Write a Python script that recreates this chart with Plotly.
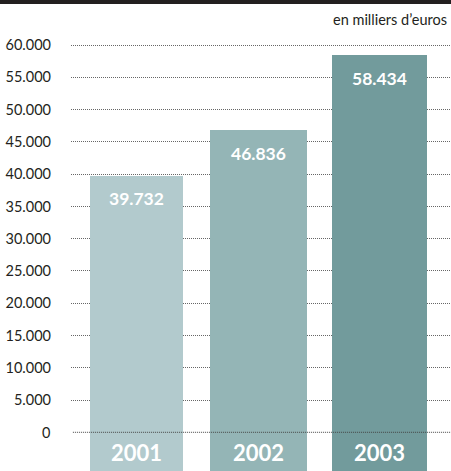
import plotly.graph_objects as go

# Chiffre d'affaires annuel, en milliers d'euros
years = ["2001", "2002", "2003"]
values = [39732, 46836, 58434]
value_labels = ["39.732", "46.836", "58.434"]
tick_values = [0, 5000, 10000, 15000, 20000, 25000, 30000,
               35000, 40000, 45000, 50000, 55000, 60000]
footer_depth = -6000  # bar extension below zero that carries the year

bar_colors = ["#b2cacd", "#94b5b6", "#729b9c"]
bar_widths = [0.765, 0.798, 0.782]

fig = go.Figure()

# main bars, 0 -> value
fig.add_trace(go.Bar(
    x=years, y=values,
    marker=dict(color=bar_colors, line=dict(width=0)),
    width=bar_widths,
    hoverinfo="skip",
    showlegend=False,
))
# footer of each bar, below the zero line
fig.add_trace(go.Bar(
    x=years, y=[footer_depth] * len(years),
    marker=dict(color=bar_colors, line=dict(width=0)),
    width=bar_widths,
    hoverinfo="skip",
    showlegend=False,
))

annotations = []
for i, (yr, v, lab) in enumerate(zip(years, values, value_labels)):
    # category index keeps the numeric-looking year from being misread
    annotations.append(dict(
        x=i, y=v, xref="x", yref="y", text=lab, showarrow=False,
        yshift=-23, yanchor="middle",
        font=dict(family="Lato", size=17.5, color="white", weight="bold"),
    ))
    annotations.append(dict(
        x=i, y=0, xref="x", yref="y", text=yr, showarrow=False,
        yshift=-20, yanchor="middle",
        font=dict(family="Lato", size=22, color="white", weight="bold"),
    ))

H = 471
annotations.append(dict(
    x=1, y=1 - 20 / H, xref="paper", yref="paper", xanchor="right",
    yanchor="middle", xshift=-2, text="en milliers d’euros", showarrow=False,
    font=dict(family="Lato", size=14.5, color="#231f20"),
))

tick_font = dict(family="Lato", size=14.5, color="#231f20")

shapes = [
    # black band along the top edge
    dict(type="rect", xref="paper", yref="paper", x0=-0.2, x1=1,
         y0=1 - 4 / H, y1=1, fillcolor="#231f20", line=dict(width=0),
         layer="above"),
    # dotted zero line, drawn over the bars
    dict(type="line", xref="paper", yref="y", x0=0.005, x1=1, y0=0, y1=0,
         line=dict(color="#444444", width=1, dash="1px,1px"), layer="above"),
]

fig.update_layout(
    width=451, height=H,
    margin=dict(l=71, r=0, t=0, b=0),
    paper_bgcolor="white", plot_bgcolor="white",
    barmode="relative", bargap=0,
    separators=",.",
    font=dict(family="Lato", color="#231f20"),
    annotations=annotations,
    shapes=shapes,
    xaxis=dict(
        type="category", range=[-0.539, 2.588],
        showticklabels=False, showgrid=False, zeroline=False,
        showline=False, ticks="",
    ),
    yaxis=dict(
        range=[footer_depth, 67000],
        tickvals=tick_values[1:],
        tickformat=",d",
        showgrid=True, gridcolor="#666666", gridwidth=1, griddash="1px,1px",
        zeroline=False, showline=False, ticks="",
        ticklabelstandoff=19,
        tickfont=tick_font,
    ),
)

# "0" label sits beside the zero line shape
fig.add_annotation(dict(
    x=0, y=0, xref="paper", yref="y", xanchor="right", yanchor="middle",
    xshift=-19, text="0", showarrow=False, font=tick_font,
))

fig.write_html("out.html")
